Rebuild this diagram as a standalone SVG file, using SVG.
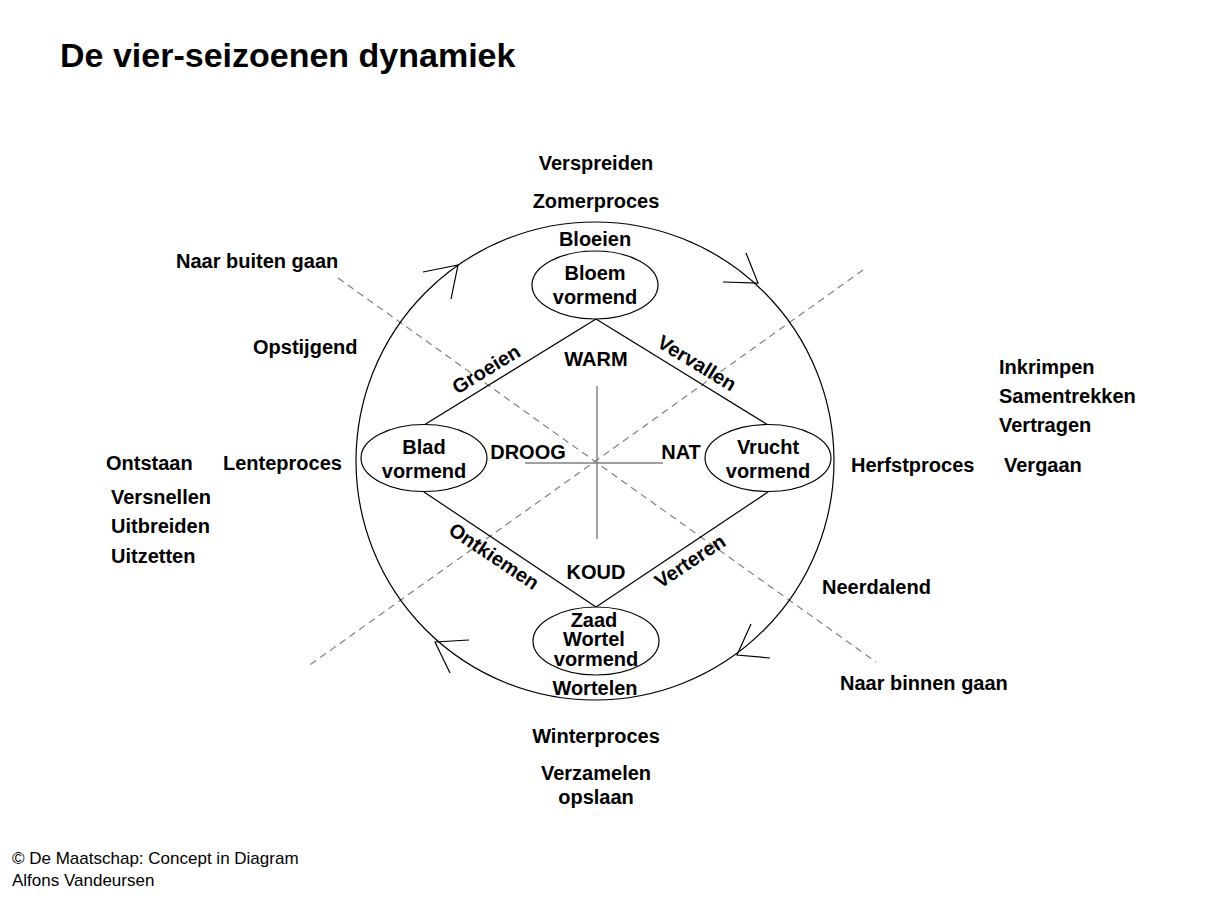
<svg xmlns="http://www.w3.org/2000/svg" width="1210" height="906" viewBox="0 0 1210 906">
<style>
text { font-family: "Liberation Sans", Arial, sans-serif; fill: #000; }
.t { font-size: 20px; font-weight: bold; }
.c { text-anchor: middle; }
.title { font-size: 34px; font-weight: bold; }
.small { font-size: 17px; }
.node { fill: #fff; stroke: #000; stroke-width: 1.2; }
.edge { fill: none; stroke: #000; stroke-width: 1.2; }
.dash { fill: none; stroke: #808080; stroke-width: 1.2; stroke-dasharray: 7 5; }
.cross { fill: none; stroke: #808080; stroke-width: 1.5; }
.arrow { fill: none; stroke: #000; stroke-width: 1.2; }
</style>
<rect width="1210" height="906" fill="#fff"/>
<text class="title" x="60" y="67">De vier-seizoenen dynamiek</text>

<g id="guides">
<line class="dash" x1="338" y1="278" x2="876" y2="662"/>
<line class="dash" x1="863" y1="270" x2="307" y2="667"/>
<line class="cross" x1="597" y1="386" x2="597" y2="539"/>
<line class="cross" x1="525" y1="463" x2="663" y2="463"/>
</g>

<g id="cycle">
<circle class="edge" cx="595" cy="461" r="239"/>
<path class="arrow" d="M423,272 L458,265 L451,299"/>
<path class="arrow" d="M723,282 L758,283 L746,253"/>
<path class="arrow" d="M770,658 L737,655 L751,624"/>
<path class="arrow" d="M469,640 L435,642 L450,673"/>
</g>

<g id="connectors">
<line class="edge" x1="596" y1="319" x2="424" y2="425"/>
<line class="edge" x1="596" y1="319" x2="768" y2="425"/>
<line class="edge" x1="424" y1="492" x2="596" y2="607"/>
<line class="edge" x1="768" y1="492" x2="596" y2="607"/>
<text class="t c" transform="translate(486,369) rotate(-31.4)" y="7">Groeien</text>
<text class="t c" transform="translate(697,363) rotate(31.4)" y="7">Vervallen</text>
<text class="t c" transform="translate(494,556) rotate(33.7)" y="7">Ontkiemen</text>
<text class="t c" transform="translate(690,561) rotate(-33.7)" y="7">Verteren</text>
</g>

<g id="node-bloem">
<ellipse class="node" cx="595" cy="285" rx="63" ry="34"/>
<text class="t c" x="595" y="280">Bloem</text>
<text class="t c" x="595" y="304">vormend</text>
</g>
<g id="node-blad">
<ellipse class="node" cx="424" cy="458" rx="63" ry="33.5"/>
<text class="t c" x="424" y="454">Blad</text>
<text class="t c" x="424" y="478">vormend</text>
</g>
<g id="node-vrucht">
<ellipse class="node" cx="768" cy="458" rx="63" ry="33.5"/>
<text class="t c" x="768" y="454">Vrucht</text>
<text class="t c" x="768" y="478">vormend</text>
</g>
<g id="node-zaad">
<ellipse class="node" cx="596" cy="641" rx="63" ry="34"/>
<text class="t c" x="594" y="627">Zaad</text>
<text class="t c" x="594" y="646">Wortel</text>
<text class="t c" x="596" y="666">vormend</text>
</g>

<g id="labels">
<text class="t c" x="596" y="170">Verspreiden</text>
<text class="t c" x="596" y="208">Zomerproces</text>
<text class="t c" x="595" y="246">Bloeien</text>
<text class="t c" x="596" y="366">WARM</text>
<text class="t c" x="528" y="459">DROOG</text>
<text class="t c" x="681" y="459">NAT</text>
<text class="t c" x="596" y="579">KOUD</text>
<text class="t c" x="595" y="695">Wortelen</text>
<text class="t c" x="596" y="743">Winterproces</text>
<text class="t c" x="596" y="780">Verzamelen</text>
<text class="t c" x="596" y="804">opslaan</text>
<text class="t" x="176" y="268">Naar buiten gaan</text>
<text class="t" x="253" y="354">Opstijgend</text>
<text class="t" x="106" y="470">Ontstaan</text>
<text class="t" x="223" y="470">Lenteproces</text>
<text class="t" x="111" y="504">Versnellen</text>
<text class="t" x="111" y="533">Uitbreiden</text>
<text class="t" x="111" y="563">Uitzetten</text>
<text class="t" x="999" y="374">Inkrimpen</text>
<text class="t" x="999" y="403">Samentrekken</text>
<text class="t" x="999" y="432">Vertragen</text>
<text class="t" x="851" y="472">Herfstproces</text>
<text class="t" x="1004" y="472">Vergaan</text>
<text class="t" x="822" y="594">Neerdalend</text>
<text class="t" x="840" y="690">Naar binnen gaan</text>
<text class="small" x="12" y="864">© De Maatschap: Concept in Diagram</text>
<text class="small" x="12" y="886">Alfons Vandeursen</text>
</g>
</svg>
